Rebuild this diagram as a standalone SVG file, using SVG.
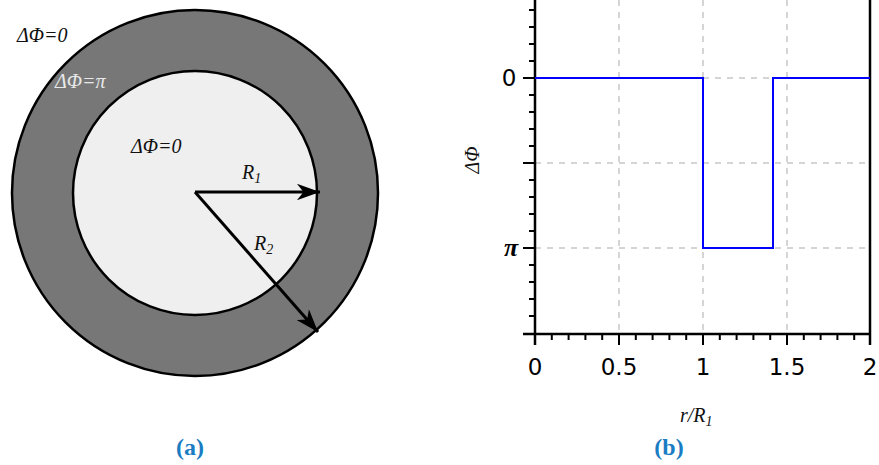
<svg xmlns="http://www.w3.org/2000/svg" width="879" height="465" viewBox="0 0 879 465">
<style>
.it{font-family:"Liberation Serif","DejaVu Serif",serif;font-style:italic;font-size:20px;fill:#111}
.tick{font-family:"DejaVu Sans",sans-serif;font-size:23px;fill:#000}
.cap{font-family:"Liberation Serif",serif;font-weight:bold;font-size:24px;fill:#1a7cc2}
.grid{stroke:#c8c8c8;stroke-width:1.5;stroke-dasharray:6,6;fill:none}
.ax{stroke:#000;stroke-width:2.5;fill:none}
.mt{stroke:#000;stroke-width:2}
</style>
<defs>
<marker id="ah" viewBox="0 0 14 10" refX="14" refY="5" markerWidth="8" markerHeight="5.5" orient="auto" markerUnits="strokeWidth">
<path d="M0,0 L14,5 L0,10 L4,5 Z" fill="#000"/>
</marker>
</defs>
<rect width="879" height="465" fill="#fff"/>
<g id="panel-a">
<g id="outer-ring"><circle cx="195" cy="193" r="183" fill="#777" stroke="#000" stroke-width="2.5"/></g>
<g id="inner-disk"><circle cx="195" cy="193" r="122" fill="#efefef" stroke="#000" stroke-width="2.5"/></g>
<g id="connectors">
<line x1="195" y1="192" x2="320" y2="192" stroke="#000" stroke-width="3" marker-end="url(#ah)"/>
<line x1="195" y1="192" x2="318" y2="332" stroke="#000" stroke-width="3" marker-end="url(#ah)"/>
</g>
<text class="it" x="17" y="42">ΔΦ=0</text>
<text class="it" x="55" y="88" style="fill:#e8e8e8">ΔΦ=π</text>
<text class="it" x="131" y="153">ΔΦ=0</text>
<text class="it" x="242" y="179">R<tspan font-size="14" dy="4">1</tspan></text>
<text class="it" x="254" y="250">R<tspan font-size="14" dy="4">2</tspan></text>
<text class="cap" x="190" y="455" text-anchor="middle">(a)</text>
</g>
<g id="panel-b">
<g id="grid">
<line class="grid" x1="619" y1="0" x2="619" y2="334"/>
<line class="grid" x1="703" y1="0" x2="703" y2="334"/>
<line class="grid" x1="787" y1="0" x2="787" y2="334"/>
<line class="grid" x1="535" y1="78" x2="870" y2="78"/>
<line class="grid" x1="535" y1="163" x2="870" y2="163"/>
<line class="grid" x1="535" y1="248" x2="870" y2="248"/>
</g>
<g id="axes">
<path class="ax" d="M535,0 V345 M523,334 H870 M870,0 V345"/>
<path class="mt" d="M523,78 H535 M523,163 H535 M523,248 H535
M529,10 H535 M529,27 H535 M529,44 H535 M529,61 H535
M529,95 H535 M529,112 H535 M529,129 H535 M529,146 H535
M529,180 H535 M529,197 H535 M529,214 H535 M529,231 H535
M529,265 H535 M529,282 H535 M529,299 H535 M529,316 H535"/>
<path class="mt" d="M619,334 V345 M703,334 V345 M787,334 V345
M551.8,334 V340 M568.6,334 V340 M585.4,334 V340 M602.2,334 V340
M635.8,334 V340 M652.6,334 V340 M669.4,334 V340 M686.2,334 V340
M719.8,334 V340 M736.6,334 V340 M753.4,334 V340 M770.2,334 V340
M803.8,334 V340 M820.6,334 V340 M837.4,334 V340 M854.2,334 V340"/>
</g>
<g id="curve"><path d="M535,78 H703 V248 H773 V78 H870" fill="none" stroke="#0000ff" stroke-width="2"/></g>
<text class="tick" x="535" y="375" text-anchor="middle">0</text>
<text class="tick" x="619" y="375" text-anchor="middle">0.5</text>
<text class="tick" x="703" y="375" text-anchor="middle">1</text>
<text class="tick" x="787" y="375" text-anchor="middle">1.5</text>
<text class="tick" x="870" y="375" text-anchor="middle">2</text>
<text class="tick" x="509" y="86" text-anchor="middle">0</text>
<text x="511" y="256" text-anchor="middle" font-family="Liberation Serif,serif" font-style="italic" font-weight="bold" font-size="26">π</text>
<text class="it" x="0" y="0" transform="translate(479,160) rotate(-90)" text-anchor="middle">ΔΦ</text>
<text class="it" x="680" y="422">r/R<tspan font-size="14" dy="4">1</tspan></text>
<text class="cap" x="669" y="455" text-anchor="middle">(b)</text>
</g>
</svg>
